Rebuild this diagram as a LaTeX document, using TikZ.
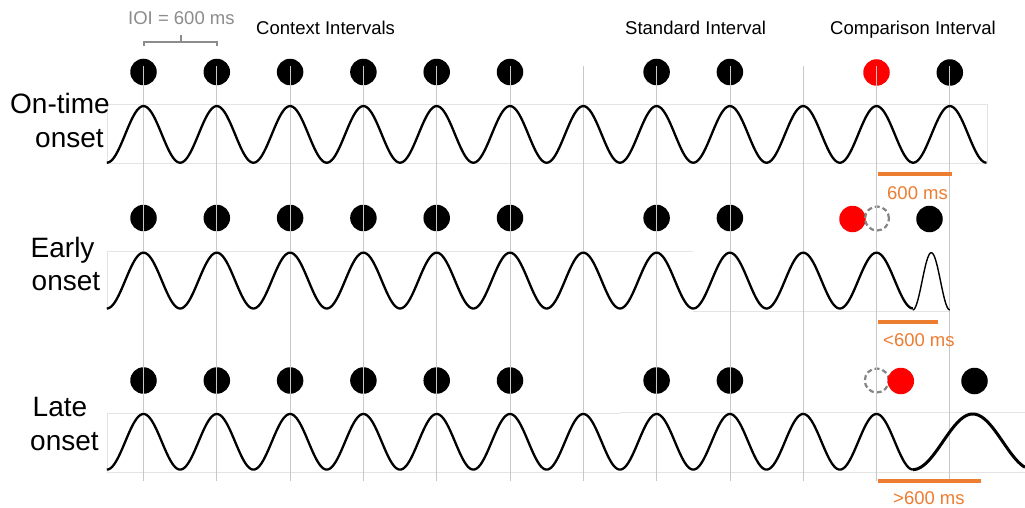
\documentclass[tikz,border=0pt]{standalone}
\usepackage{fontspec}
\setmainfont{Liberation Sans}
\definecolor{vline}{HTML}{C8C8C8}
\definecolor{frame}{HTML}{E4E4E4}
\definecolor{ioigray}{HTML}{8C8C8C}
\definecolor{dashgray}{HTML}{848484}
\definecolor{orng}{HTML}{ED7D31}
\definecolor{dotred}{HTML}{FF0000}
\begin{document}
\begin{tikzpicture}[x=1pt,y=-1pt,
  blackdot/.style={circle,fill=black,draw=none,minimum size=26.5pt,inner sep=0pt},
  reddot/.style={circle,fill=dotred,draw=none,minimum size=26.5pt,inner sep=0pt},
  ghost/.style={circle,draw=dashgray,line width=2.2pt,dash pattern=on 5pt off 3pt,minimum size=24pt,inner sep=0pt},
  hdr/.style={anchor=base west,inner sep=0pt,font=\fontsize{18.5}{22}\selectfont},
  rowlab/.style={anchor=base west,inner sep=0pt,font=\fontsize{28}{33}\selectfont},
  mslab/.style={anchor=base west,inner sep=0pt,text=orng,font=\fontsize{18.5}{22}\selectfont},
  grid/.style={draw=vline,line width=0.7pt},
  framel/.style={draw=frame,line width=0.8pt},
  wave/.style={line width=2.3pt,line join=round},
  bar/.style={draw=orng,line width=4pt}]
\useasboundingbox (0,0) rectangle (1025,508);
\fill[white] (0,0) rectangle (1025,508);

% frames
\draw[framel] (107,104.5) rectangle (987,163);
\draw[framel] (107,310) -- (107,251) -- (693,251);
\draw[framel] (693,311) -- (949.8,311);
\draw[framel] (107,472) -- (107,413) -- (620,413);
\draw[framel] (620,412.3) -- (1025,412.3);
\draw[framel] (107,472) -- (1025,472);

% header texts
\node[hdr,text=ioigray] (ioi) at (128,25) {IOI = 600 ms};
\draw[ioigray,line width=2pt] (143.5,46) -- (143.5,42) -- (217,42) -- (217,46);
\draw[ioigray,line width=2pt] (180.5,42) -- (180.5,35);
\node[hdr] (ctx) at (256,34.7) {Context Intervals};
\node[hdr] (std) at (625,34.5) {Standard Interval};
\node[hdr] (cmp) at (830,34.5) {Comparison Interval};

% row labels
\node[rowlab] (l1a) at (10,114) {On-time};
\node[rowlab] (l1b) at (35,147) {onset};
\node[rowlab] (l2a) at (30.5,257) {Early};
\node[rowlab] (l2b) at (31.5,290.7) {onset};
\node[rowlab] (l3a) at (32.5,416.7) {Late};
\node[rowlab] (l3b) at (30,450) {onset};

% dots
\foreach \k/\n in {0/a,1/b,2/c,3/d,4/e,5/f,7/g,8/h}{
  \node[blackdot] (r1\n) at ({143.5+73.3*\k},72) {};
  \node[blackdot] (r2\n) at ({143.5+73.3*\k},218) {};
  \node[blackdot] (r3\n) at ({143.5+73.3*\k},380.5) {};
}
% row 1 comparison
\node[reddot] (r1red) at (876.5,72.5) {};
\node[blackdot] (r1last) at (949.8,72.5) {};
% row 2 comparison
\node[reddot] (r2red) at (852.5,219) {};
\node[ghost] (r2ghost) at (877,218.5) {};
\node[blackdot] (r2last) at (929.5,219) {};
% row 3 comparison
\node[ghost] (r3ghost) at (876.8,380.5) {};
\node[reddot] (r3red) at (900.8,381) {};
\node[blackdot] (r3last) at (974.5,381) {};

% vertical grid lines
\foreach \k in {0,...,11}{
  \draw[grid] ({143.5+73.3*\k},66) -- ({143.5+73.3*\k},481);
}

% waves
\draw[wave] plot[domain=106.8:986.5,samples=700,smooth,variable=\t]
  (\t,{134.4-28.3*cos(((\t-143.5)/73.3)*360)});
\draw[wave] plot[domain=106.8:912.8,samples=600,smooth,variable=\t]
  (\t,{280.6-27.9*cos(((\t-143.5)/73.3)*360)});
\draw[line width=1.4pt,line join=round] plot[domain=912.8:949.8,samples=60,smooth,variable=\t]
  (\t,{281.3-28.6*cos(((\t-931.3)/37)*360)});
\draw[wave] plot[domain=106.8:912.8,samples=600,smooth,variable=\t]
  (\t,{441.8-27.8*cos(((\t-143.5)/73.3)*360)});
\draw[line width=3pt,line join=round] plot[domain=912.8:1025,samples=120,smooth,variable=\t]
  (\t,{441.8-27.8*cos(((\t-972.8)/120)*360)});

% orange bars and labels
\draw[bar] (877.7,173.5) -- (951.7,173.5);
\node[mslab] (m1) at (887,199) {600 ms};
\draw[bar] (878,322) -- (938,322);
\node[mslab] (m2) at (883,346) {<600 ms};
\draw[bar] (878,480.5) -- (980.7,480.5);
\node[mslab] (m3) at (893,504) {>600 ms};
\end{tikzpicture}
\end{document}
